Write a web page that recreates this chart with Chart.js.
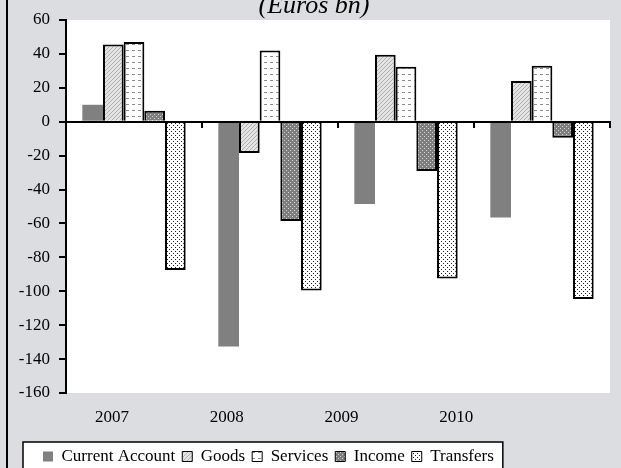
<!DOCTYPE html>
<html>
<head>
<meta charset="utf-8">
<script src="https://cdn.jsdelivr.net/npm/chart.js@4"></script>
<style>
  html, body { margin: 0; padding: 0; overflow: hidden; background: #dcdde0; }
  #wrap { position: relative; width: 621px; height: 480px; }
</style>
</head>
<body>
<div id="wrap"><canvas id="c" width="621" height="480"></canvas></div>
<script>
// Balance of payments components, euros bn
const categories     = ['2007', '2008', '2009', '2010'];
const currentAccount = [10, -132.5, -48.5, -56.5];
const goods          = [45.5, -18.5, 39.5, 24];
const services       = [47, 42, 32.5, 33];
const income         = [6.5, -58.5, -29, -9.5];
const transfers      = [-87.5, -99.5, -92.5, -104.5];
const yMin = -160, yMax = 60, yStep = 20;

Chart.defaults.font.family = "'Liberation Serif', 'Times New Roman', serif";

// Small repeating tiles used as bar fills
function makePattern(size, paint) {
  const c = document.createElement('canvas');
  c.width = size; c.height = size;
  const g = c.getContext('2d');
  paint(g, size);
  return g.createPattern(c, 'repeat');
}
const goodsFill = makePattern(4, g => {
  g.fillStyle = '#e4e4e4'; g.fillRect(0, 0, 4, 4);
  g.fillStyle = '#b0b0b0';
  for (let i = 0; i < 4; i++) g.fillRect(3 - i, i, 1, 1);
});
const servicesFill = makePattern(6, g => {
  g.fillStyle = '#ffffff'; g.fillRect(0, 0, 6, 6);
  g.fillStyle = '#8c8c8c'; g.fillRect(0, 2, 3, 1);
});
const incomeFill = makePattern(4, g => {
  g.fillStyle = '#7e7e7e'; g.fillRect(0, 0, 4, 4);
  g.fillStyle = '#d4d4d4'; g.fillRect(0, 0, 1, 1); g.fillRect(2, 2, 1, 1);
});
const transfersFill = makePattern(4, g => {
  g.fillStyle = '#ffffff'; g.fillRect(0, 0, 4, 4);
  g.fillStyle = '#222222'; g.fillRect(1, 1, 1, 1); g.fillRect(3, 3, 1, 1);
});

// Legend sits further right than the layout padding alone would put it
const legendInset = 18;

// Grey page, white plot area, left frame edge and the boxed legend
const frame = {
  id: 'frame',
  afterLayout(chart) {
    const lg = chart.legend;
    lg.left += legendInset;
    lg.right += legendInset;
  },
  beforeDraw(chart) {
    const { ctx, chartArea: a, legend } = chart;
    ctx.save();
    ctx.fillStyle = '#dcdde0';
    ctx.fillRect(0, 0, chart.width, chart.height);
    ctx.fillStyle = '#ffffff';
    ctx.fillRect(a.left, a.top, a.right - a.left, a.bottom - a.top);
    ctx.fillStyle = '#000000';
    ctx.fillRect(6, 0, 2, chart.height);
    const boxes = legend.legendHitBoxes;
    if (boxes && boxes.length) {
      const first = boxes[0], last = boxes[boxes.length - 1];
      const x0 = first.left - 20, x1 = last.left + last.width + 9, y0 = legend.top + 1;
      ctx.fillStyle = '#ffffff';
      ctx.fillRect(x0, y0, x1 - x0, chart.height);
      ctx.strokeStyle = '#000000';
      ctx.lineWidth = 1.5;
      ctx.strokeRect(x0, y0, x1 - x0, chart.height);
    }
    ctx.restore();
  }
};

new Chart(document.getElementById('c'), {
  type: 'bar',
  data: {
    labels: categories,
    datasets: [
      { label: 'Current Account', data: currentAccount, backgroundColor: '#808080', borderWidth: 0 },
      { label: 'Goods', data: goods, backgroundColor: goodsFill, borderColor: '#000', borderWidth: 2 },
      { label: 'Services', data: services, backgroundColor: servicesFill, borderColor: '#000', borderWidth: 2 },
      { label: 'Income', data: income, backgroundColor: incomeFill, borderColor: '#000', borderWidth: 2 },
      { label: 'Transfers', data: transfers, backgroundColor: transfersFill, borderColor: '#000', borderWidth: 2 }
    ]
  },
  options: {
    responsive: false,
    animation: false,
    devicePixelRatio: 1,
    layout: { padding: { left: 18, right: 11, top: 0, bottom: 5 } },
    datasets: { bar: { categoryPercentage: 0.76, barPercentage: 1 } },
    plugins: {
      title: {
        display: true,
        text: '(Euros bn)',
        color: '#000',
        font: { size: 26, style: 'italic', weight: 'normal', lineHeight: 1 },
        padding: { top: -7, bottom: 1 }
      },
      legend: {
        position: 'bottom',
        align: 'start',
        labels: {
          color: '#000',
          font: { size: 17 },
          boxWidth: 10,
          boxHeight: 10,
          padding: 7,
          generateLabels(chart) {
            const items = Chart.defaults.plugins.legend.labels.generateLabels(chart);
            items.forEach(it => { it.lineWidth = Math.min(it.lineWidth, 1); });
            return items;
          }
        }
      },
      tooltip: { enabled: false }
    },
    scales: {
      x: {
        position: { y: 0 },
        grid: { drawOnChartArea: false, color: '#000', lineWidth: 2, tickLength: 5 },
        border: { color: '#000', width: 2, z: 1 },
        ticks: { display: false },
        afterFit(s) { s.height = 0; }
      },
      x2: {
        type: 'linear',
        position: 'bottom',
        offset: false,
        min: 0,
        max: 4.74,
        grid: { display: false, drawTicks: false, offset: false },
        border: { display: false },
        ticks: { color: '#000', font: { size: 17 }, padding: 14, autoSkip: false, callback: (v, i) => categories[i] },
        afterBuildTicks(s) { s.ticks = categories.map((c, i) => ({ value: 0.4 + i })); },
        afterFit(s) { s.height = 48; }
      },
      y: {
        min: yMin,
        max: yMax,
        ticks: { stepSize: yStep, color: '#000', font: { size: 17 }, padding: 9 },
        grid: { drawOnChartArea: false, color: '#000', lineWidth: 2, tickLength: 7 },
        border: { color: '#000', width: 2, z: 1 },
        afterFit(s) { s.width = 48; }
      }
    }
  },
  plugins: [frame]
});
</script>
</body>
</html>
